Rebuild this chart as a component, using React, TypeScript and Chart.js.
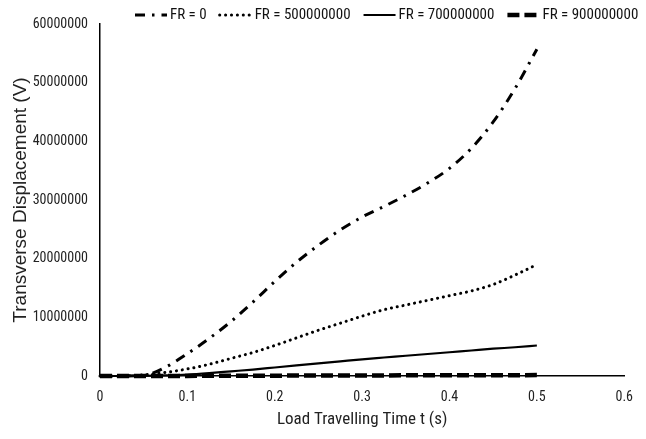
import React, { useEffect, useRef } from "react";
import { Chart, registerables } from "chart.js";

Chart.register(...registerables);

const times = [0, 0.025, 0.05, 0.075, 0.1, 0.125, 0.15, 0.175, 0.2, 0.225, 0.25, 0.275, 0.3, 0.325, 0.35, 0.375, 0.4, 0.425, 0.45, 0.475, 0.5];
const fr0 = [0, 0, 100000, 1500000, 3800000, 6400000, 9300000, 12600000, 16100000, 19400000, 22300000, 24900000, 27100000, 28900000, 30800000, 32900000, 35400000, 38800000, 43300000, 49000000, 55700000];
const fr500 = [0, 0, 200000, 600000, 1200000, 2000000, 3000000, 4000000, 5200000, 6500000, 7800000, 9000000, 10200000, 11300000, 12100000, 12900000, 13700000, 14500000, 15600000, 17200000, 19000000];
const fr700 = [0, 0, 20000, 100000, 250000, 500000, 800000, 1100000, 1450000, 1800000, 2150000, 2500000, 2850000, 3150000, 3450000, 3750000, 4050000, 4350000, 4650000, 4900000, 5200000];
const fr900 = [0, 0, 0, 10000, 20000, 30000, 40000, 50000, 60000, 70000, 80000, 90000, 100000, 105000, 110000, 115000, 120000, 125000, 130000, 140000, 150000];
const seriesLabels = ["FR = 0", "FR = 500000000", "FR = 700000000", "FR = 900000000"];
const yTicks = [0, 10000000, 20000000, 30000000, 40000000, 50000000, 60000000];
const xTicks = [0, 0.1, 0.2, 0.3, 0.4, 0.5, 0.6];

const FONT = "Roboto, sans-serif";
const TITLE_FONT = '"Liberation Sans", Arial, sans-serif';

const styles = [
  { borderWidth: 3, borderDash: [10, 7, 2.5, 7], borderCapStyle: "butt" },
  { borderWidth: 3, borderDash: [0.1, 5.8], borderCapStyle: "round" },
  { borderWidth: 2.2, borderDash: [], borderCapStyle: "butt" },
  { borderWidth: 4.5, borderDash: [12, 5], borderCapStyle: "butt" },
];

const legendPlugin = {
  id: "customLegend",
  afterDraw(chart: any) {
    const ctx = chart.ctx;
    ctx.save();
    ctx.font = "condensed 15px " + FONT;
    ctx.textBaseline = "middle";
    const sampleW = 32;
    const gap1 = 3;
    const gap2 = 13;
    let x = 135;
    const y = 15;
    chart.data.datasets.forEach((d: any) => {
      ctx.beginPath();
      ctx.strokeStyle = "#000";
      ctx.lineWidth = d.borderWidth;
      ctx.setLineDash(d.borderDash || []);
      ctx.lineCap = d.borderCapStyle;
      ctx.moveTo(x, y);
      ctx.lineTo(x + sampleW, y);
      ctx.stroke();
      ctx.setLineDash([]);
      x += sampleW + gap1;
      ctx.fillStyle = "#111";
      ctx.fillText(d.label, x, y);
      x += ctx.measureText(d.label).width + gap2;
    });
    ctx.restore();
  },
};

export default function App() {
  const ref = useRef<HTMLCanvasElement | null>(null);
  useEffect(() => {
    if (!ref.current) return;
    const allSeries = [fr0, fr500, fr700, fr900];
    const chart = new Chart(ref.current, {
      type: "line",
      data: {
        datasets: allSeries.map((s, i) => ({
          label: seriesLabels[i],
          data: times.map((t, j) => ({ x: t, y: s[j] })),
          borderColor: "#000",
          backgroundColor: "#000",
          pointRadius: 0,
          cubicInterpolationMode: "monotone",
          clip: false,
          ...styles[i],
        })) as any,
      },
      options: {
        animation: false,
        responsive: false,
        devicePixelRatio: 1,
        layout: { padding: { top: 24, right: 19, left: 0, bottom: 0 } },
        plugins: { legend: { display: false }, tooltip: { enabled: false } },
        scales: {
          x: {
            type: "linear",
            min: 0,
            max: 0.6,
            afterBuildTicks: (s: any) => { s.ticks = xTicks.map((v) => ({ value: v })); },
            afterFit: (s: any) => { s.height = 63; },
            grid: { display: false, drawTicks: false },
            border: { display: true, color: "#000", width: 1.5 },
            ticks: { color: "#222", font: { family: FONT, size: 14, weight: "condensed" as any }, padding: 13, callback: (v: any) => String(Math.round(v * 10) / 10) },
            title: { display: true, text: "Load Travelling Time t (s)", color: "#222", font: { family: FONT, size: 17, weight: "condensed" as any }, padding: { top: 2, bottom: 9 } },
          },
          y: {
            type: "linear",
            min: 0,
            max: 60000000,
            afterBuildTicks: (s: any) => { s.ticks = yTicks.map((v) => ({ value: v })); },
            afterFit: (s: any) => { s.width = 100; },
            grid: { display: false, drawTicks: false },
            border: { display: true, color: "#000", width: 1.5 },
            ticks: { color: "#222", font: { family: FONT, size: 14, weight: "condensed" as any }, padding: 12, callback: (v: any) => String(v) },
            title: { display: true, text: "Transverse Displacement (V)", color: "#222", font: { family: TITLE_FONT, size: 19 }, padding: { top: 9, bottom: 0 } },
          },
        },
      },
      plugins: [legendPlugin],
    });
    return () => chart.destroy();
  }, []);
  return (
    <div style={{ position: "fixed", left: 0, top: 0, width: 646, height: 439, background: "#fff" }}>
      <canvas ref={ref} width={646} height={439} style={{ width: 646, height: 439, display: "block" }} />
    </div>
  );
}
